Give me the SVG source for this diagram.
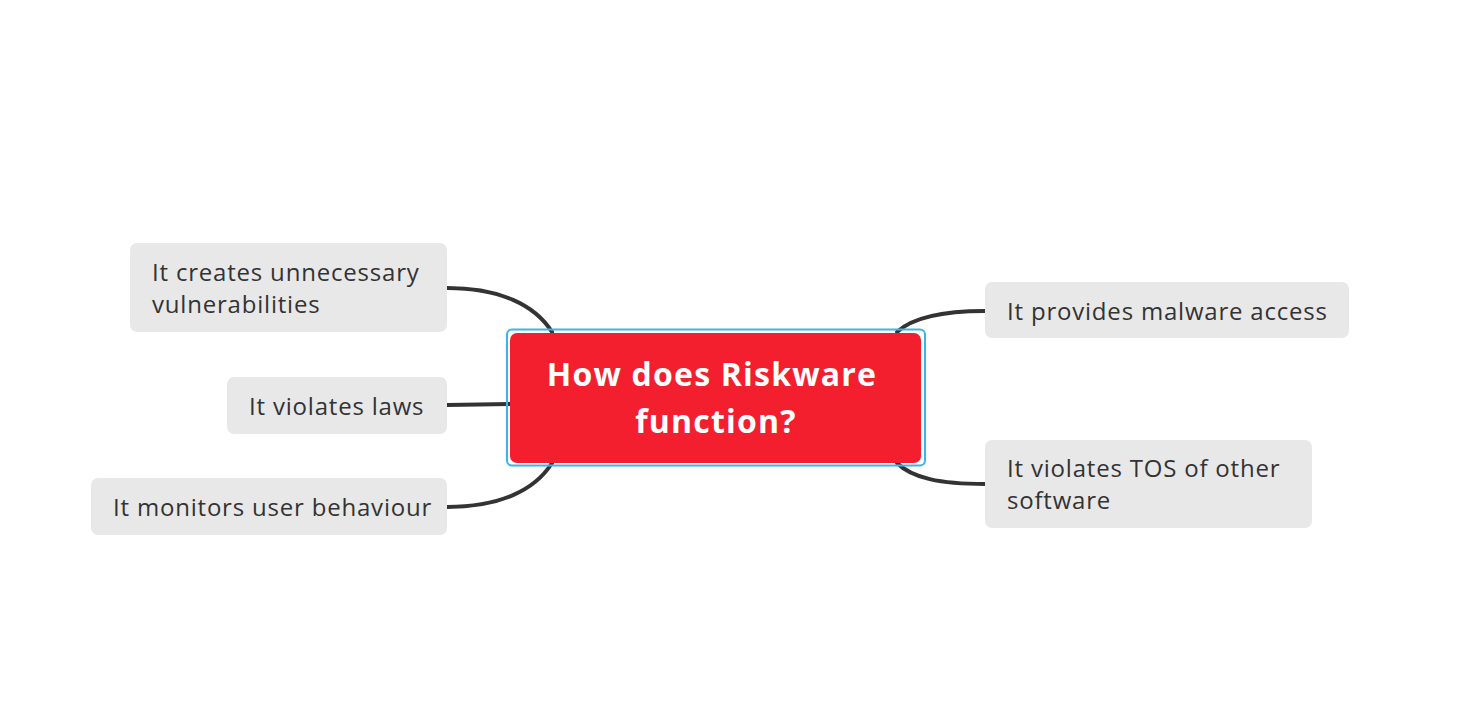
<svg xmlns="http://www.w3.org/2000/svg" width="1467" height="717" viewBox="0 0 1467 717">
<style>
.leaf{fill:#e8e8e8}
.lt{font-family:"Open Sans",sans-serif;font-size:24px;letter-spacing:0.8px;fill:#333333}
.ct{font-family:"Open Sans",sans-serif;font-size:32px;letter-spacing:1.2px;font-weight:bold;fill:#ffffff;text-anchor:middle}
.conn{fill:none;stroke:#333333;stroke-width:4;stroke-linecap:round}
</style>
<rect width="1467" height="717" fill="#ffffff"/>
<g id="connectors">
<path class="conn" d="M447,288 C500,288 535,305 552,332"/>
<path class="conn" d="M447,405 L510,404"/>
<path class="conn" d="M447,507 C500,507 535,490 552,463"/>
<path class="conn" d="M985,311 C940,311 912,318 897,332"/>
<path class="conn" d="M985,484 C940,484 912,478 897,463"/>
</g>
<g id="center">
<rect x="507" y="329.5" width="418" height="136" rx="5" fill="none" stroke="#3ab4ea" stroke-width="2"/>
<rect x="510" y="333" width="411" height="130" rx="7" fill="#f41f2e"/>
<text class="ct" x="712" y="386">How does Riskware</text>
<text class="ct" x="716" y="433">function?</text>
</g>
<g id="n1">
<rect class="leaf" x="130" y="243" width="317" height="89" rx="7"/>
<text class="lt" x="152" y="281">It creates unnecessary</text>
<text class="lt" x="152" y="313">vulnerabilities</text>
</g>
<g id="n2">
<rect class="leaf" x="227" y="377" width="220" height="57" rx="7"/>
<text class="lt" x="249" y="415">It violates laws</text>
</g>
<g id="n3">
<rect class="leaf" x="91" y="478" width="356" height="57" rx="7"/>
<text class="lt" x="113" y="516">It monitors user behaviour</text>
</g>
<g id="n4">
<rect class="leaf" x="985" y="282" width="364" height="56" rx="7"/>
<text class="lt" x="1007" y="320">It provides malware access</text>
</g>
<g id="n5">
<rect class="leaf" x="985" y="440" width="327" height="88" rx="7"/>
<text class="lt" x="1007" y="477">It violates TOS of other</text>
<text class="lt" x="1007" y="509">software</text>
</g>
</svg>
